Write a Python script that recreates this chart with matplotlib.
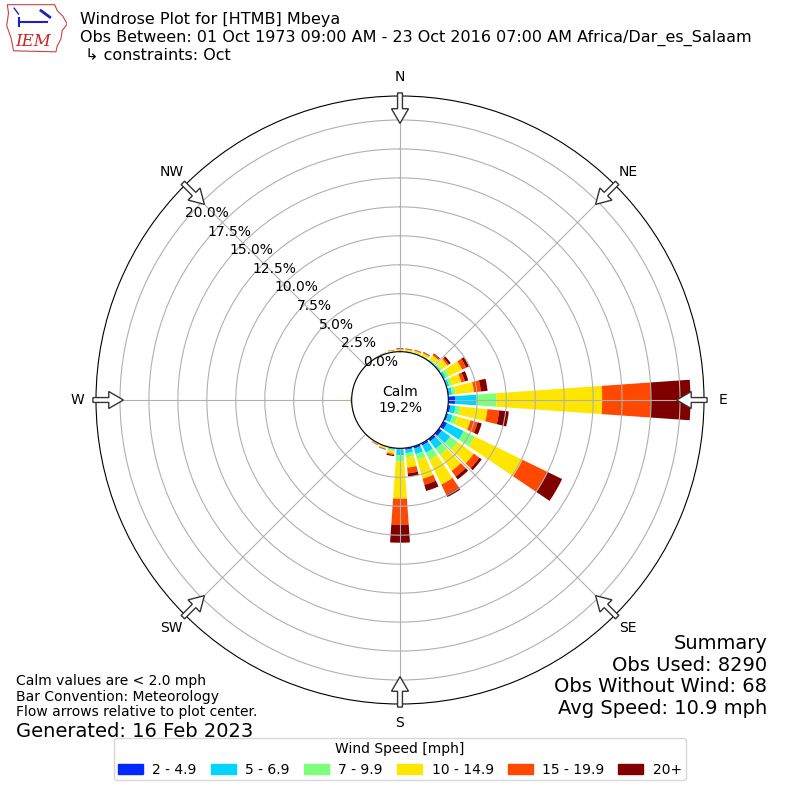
"""Windrose for [HTMB] Mbeya, October obs, IEM style."""

import matplotlib
matplotlib.use('Agg')
import matplotlib.pyplot as plt
import matplotlib.patches as mpatches
import numpy as np

# ---------------------------------------------------------------------------
# Data (percent of all obs, per 10 degree direction bin, per speed bin)
# ---------------------------------------------------------------------------
DIRECTIONS = np.arange(0, 360, 10)
SPEED_LABELS = ['2 - 4.9', '5 - 6.9', '7 - 9.9', '10 - 14.9', '15 - 19.9', '20+']
COLORS = ['#0028ff', '#00d4ff', '#7dff7a', '#ffe600', '#ff4800', '#800000']

blue   = [0.01, 0.01, 0.01, 0.02, 0.03, 0.05, 0.05, 0.05, 0.10, 0.58, 0.20, 0.15,
          0.35, 0.30, 0.25, 0.20, 0.20, 0.15, 0.10, 0.05, 0.02, 0.01, 0.01, 0.00,
          0.00, 0.00, 0.00, 0.02, 0.00, 0.00, 0.00, 0.00, 0.00, 0.00, 0.01, 0.01]
cyan   = [0.02, 0.02, 0.03, 0.04, 0.08, 0.10, 0.20, 0.20, 0.25, 1.87, 0.45, 0.40,
          1.60, 0.90, 0.80, 0.70, 0.50, 0.30, 0.50, 0.10, 0.03, 0.02, 0.01, 0.01,
          0.00, 0.00, 0.01, 0.05, 0.01, 0.00, 0.00, 0.00, 0.01, 0.01, 0.02, 0.02]
green  = [0.03, 0.04, 0.05, 0.06, 0.10, 0.15, 0.30, 0.25, 0.30, 1.72, 0.43, 0.45,
          1.05, 0.80, 0.65, 0.70, 0.50, 0.35, 0.55, 0.10, 0.05, 0.03, 0.01, 0.01,
          0.01, 0.01, 0.02, 0.06, 0.02, 0.01, 0.01, 0.01, 0.01, 0.02, 0.03, 0.04]
yellow = [0.14, 0.15, 0.18, 0.22, 0.40, 0.60, 1.25, 0.84, 1.60, 9.11, 2.34, 1.17,
          4.60, 1.70, 1.70, 2.35, 1.70, 0.90, 3.20, 0.25, 0.12, 0.08, 0.02, 0.01,
          0.01, 0.01, 0.02, 0.02, 0.02, 0.01, 0.01, 0.01, 0.01, 0.02, 0.04, 0.08]
orange = [0.05, 0.05, 0.05, 0.07, 0.12, 0.15, 0.40, 0.31, 0.60, 4.17, 1.02, 0.63,
          2.40, 0.60, 0.60, 0.95, 0.55, 0.50, 2.25, 0.10, 0.05, 0.03, 0.01, 0.00,
          0.00, 0.00, 0.00, 0.00, 0.00, 0.00, 0.00, 0.00, 0.00, 0.01, 0.01, 0.02]
darkred = [0.05, 0.03, 0.03, 0.04, 0.07, 0.20, 0.25, 0.31, 0.58, 3.45, 0.83, 0.37,
           1.40, 0.25, 0.30, 0.25, 0.55, 0.30, 1.55, 0.10, 0.03, 0.02, 0.00, 0.00,
           0.00, 0.00, 0.00, 0.00, 0.00, 0.00, 0.00, 0.00, 0.00, 0.01, 0.01, 0.02]

CALM_PCT = 19.2
RTICKS = [0.0, 2.5, 5.0, 7.5, 10.0, 12.5, 15.0, 17.5, 20.0]
COMPASS = ['N', 'NE', 'E', 'SE', 'S', 'SW', 'W', 'NW']

TITLE = ('Windrose Plot for [HTMB] Mbeya\n'
         'Obs Between: 01 Oct 1973 09:00 AM - 23 Oct 2016 07:00 AM Africa/Dar_es_Salaam\n'
         ' \u21b3 constraints: Oct')
SUMMARY = 'Summary\nObs Used: 8290\nObs Without Wind: 68\nAvg Speed: 10.9 mph'
NOTES = 'Calm values are < 2.0 mph\nBar Convention: Meteorology\nFlow arrows relative to plot center.'
GENERATED = 'Generated: 16 Feb 2023'

RMAX = 22.07
RORIGIN = -4.17


def draw_logo(fig):
    lax = fig.add_axes([0.006, 0.934, 0.078, 0.062])
    lax.set_xlim(0, 1)
    lax.set_ylim(0, 1)
    lax.axis('off')
    outline = [(0.04, 0.97), (0.80, 0.97), (0.84, 0.85), (0.93, 0.74), (1.0, 0.58),
               (0.92, 0.45), (0.90, 0.28), (0.84, 0.14), (0.82, 0.02), (0.14, 0.04),
               (0.10, 0.30), (0.03, 0.55), (0.06, 0.80)]
    lax.add_patch(mpatches.Polygon(outline, closed=True, fill=False,
                                   edgecolor='#d04040', linewidth=0.8))
    lax.plot([0.22, 0.68], [0.62, 0.62], color='#2020c0', linewidth=1.5)
    lax.plot([0.22, 0.22], [0.55, 0.70], color='#2020c0', linewidth=1.5)
    lax.plot([0.58, 0.72], [0.85, 0.72], color='#2020c0', linewidth=2)
    lax.plot([0.15, 0.22], [0.90, 0.78], color='#2020c0', linewidth=1)
    lax.text(0.45, 0.22, 'IEM', color='#d02020', fontsize=12, family='serif',
             style='italic', ha='center', va='center')


def main() -> None:
    fig = plt.figure(figsize=(8, 8), dpi=100)
    ax = fig.add_axes([0.12, 0.12, 0.76, 0.76], projection='polar')
    ax.set_theta_zero_location('N')
    ax.set_theta_direction(-1)

    theta = np.radians(DIRECTIONS)
    width = np.radians(8.0)
    bottom = np.zeros(len(DIRECTIONS))
    handles = []
    for vals, color, label in zip([blue, cyan, green, yellow, orange, darkred],
                                  COLORS, SPEED_LABELS):
        vals = np.array(vals)
        ax.bar(theta, vals, width=width, bottom=bottom, color=color,
               edgecolor='none', linewidth=0)
        handles.append(mpatches.Patch(color=color, label=label))
        bottom = bottom + vals

    ax.set_rorigin(RORIGIN)
    ax.set_ylim(0, RMAX)
    ax.set_rgrids(RTICKS, labels=[f'{v:.1f}%' for v in RTICKS], fontsize=10)
    ax.set_rlabel_position(310)
    ax.set_xticks(np.radians(np.arange(0, 360, 45)))
    ax.set_xticklabels(COMPASS, fontsize=10)
    ax.tick_params(axis='x', pad=3)
    ax.grid(True, color='#b0b0b0', linewidth=0.8)

    ax.text(0.5, 0.5, f'Calm\n{CALM_PCT:.1f}%', transform=ax.transAxes,
            ha='center', va='center', fontsize=10)

    # hollow flow arrows at the rim, pointing toward the centre
    for ang in np.radians(np.arange(0, 360, 45)):
        ux, uy = np.sin(ang), np.cos(ang)
        r0, r1 = 0.505, 0.455
        arr = mpatches.FancyArrow(0.5 + r0 * ux, 0.5 + r0 * uy,
                                  (r1 - r0) * ux, (r1 - r0) * uy,
                                  width=0.008, head_width=0.028, head_length=0.024,
                                  length_includes_head=True, transform=ax.transAxes,
                                  facecolor='white', edgecolor='#333333',
                                  linewidth=1.0, clip_on=False, zorder=5)
        ax.add_patch(arr)

    fig.text(0.10, 0.985, TITLE, ha='left', va='top', fontsize=11.5, linespacing=1.2)
    fig.text(0.959, 0.207, SUMMARY, ha='right', va='top', fontsize=14, linespacing=1.17)
    fig.text(0.02, 0.157, NOTES, ha='left', va='top', fontsize=10, linespacing=1.1)
    fig.text(0.02, 0.0975, GENERATED, ha='left', va='top', fontsize=14)

    fig.legend(handles=handles, loc='lower center', bbox_to_anchor=(0.5, 0.016),
               ncol=6, title='Wind Speed [mph]', fontsize=10, title_fontsize=10,
               columnspacing=1.0, handletextpad=0.7, handlelength=1.8,
               borderpad=0.25)

    draw_logo(fig)
    fig.savefig('out.png', dpi=100)
    plt.close(fig)


if __name__ == '__main__':
    main()
